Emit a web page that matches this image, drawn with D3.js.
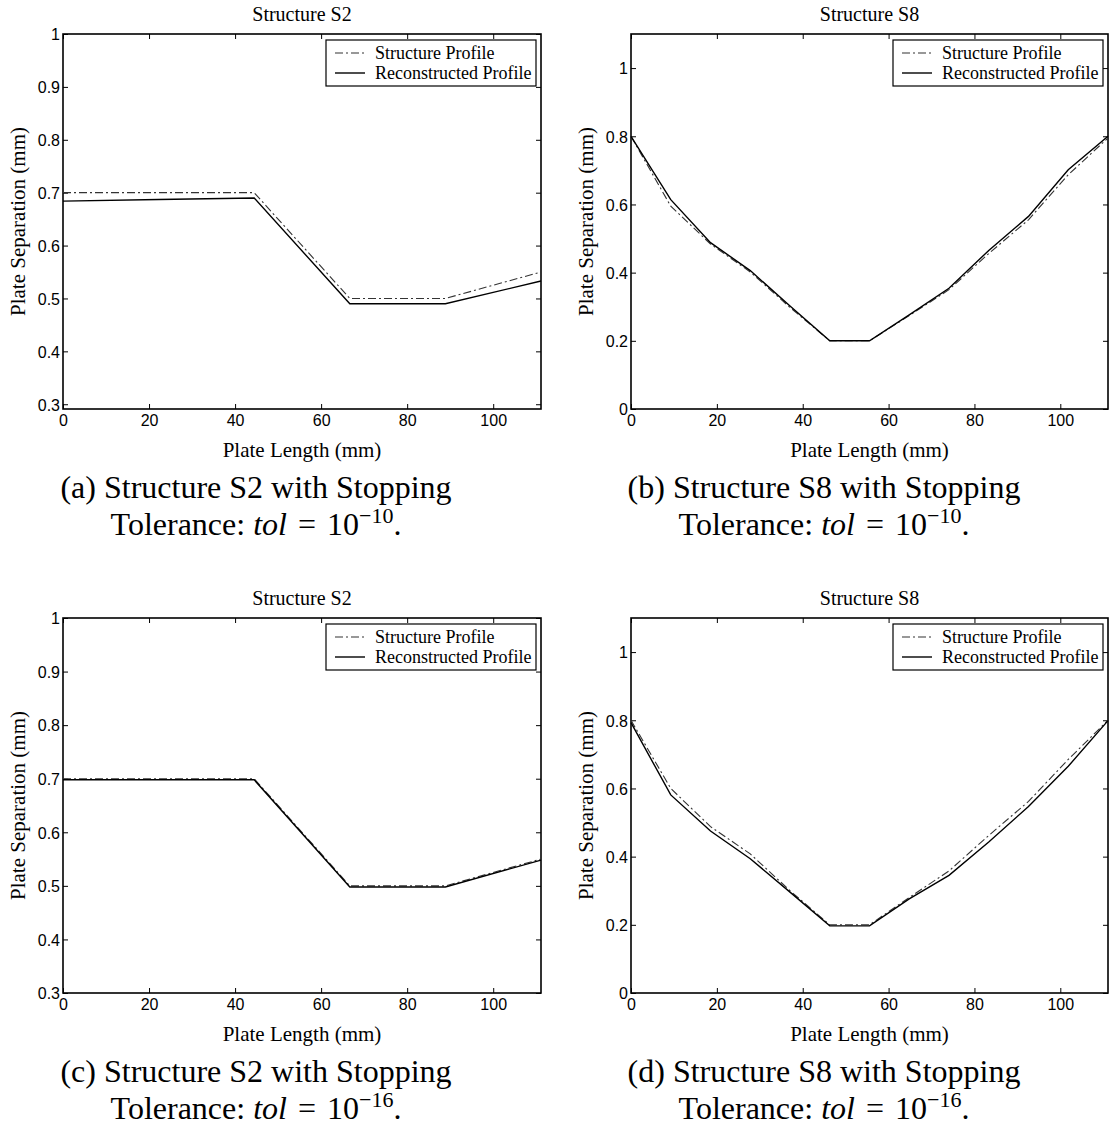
<!DOCTYPE html>
<meta charset="utf-8">
<title>Structure S2 / S8 reconstructed profiles</title>
<style>
    body {
        margin: 0;
        background: #fff;
    }
    svg text.tick-label {
        font-family: "Liberation Sans", Arial, sans-serif;
    }
</style>

<body>
    <script src="https://d3js.org/d3.v7.min.js"></script>
    <script>/* JavaScript */

        /* Plate length grid points (mm) */
        var xS2 = [0, 22.22, 44.44, 66.67, 88.89, 111.11];
        var xS8 = [0, 9.26, 18.52, 27.78, 37.04, 46.30, 55.56, 64.81, 74.07, 83.33, 92.59, 101.85, 111.11];

        /* Plate separation (mm) */
        var s2Structure = [0.700, 0.700, 0.700, 0.500, 0.500, 0.550];
        var s2ReconA = [0.684, 0.687, 0.690, 0.490, 0.490, 0.533];
        var s2ReconC = [0.698, 0.698, 0.698, 0.498, 0.498, 0.548];

        var s8StructureB = [0.800, 0.595, 0.484, 0.402, 0.298, 0.200, 0.200, 0.274, 0.350, 0.456, 0.555, 0.687, 0.795];
        var s8ReconB = [0.800, 0.614, 0.488, 0.406, 0.302, 0.200, 0.200, 0.276, 0.354, 0.465, 0.565, 0.702, 0.800];
        var s8StructureD = [0.800, 0.600, 0.488, 0.408, 0.300, 0.200, 0.200, 0.280, 0.358, 0.462, 0.562, 0.685, 0.800];
        var s8ReconD = [0.793, 0.581, 0.475, 0.394, 0.296, 0.197, 0.197, 0.276, 0.345, 0.443, 0.547, 0.665, 0.799];

        /* Tick labels */
        var xTicks = [0, 20, 40, 60, 80, 100];
        var yTicksS2 = [0.3, 0.4, 0.5, 0.6, 0.7, 0.8, 0.9, 1];
        var yTicksS8 = [0, 0.2, 0.4, 0.6, 0.8, 1];

        var legendLabels = ["Structure Profile", "Reconstructed Profile"];

        var panels = [
            { title: "Structure S2", x: xS2, structure: s2Structure, recon: s2ReconA, yDomain: [0.291, 1], yTicks: yTicksS2, tag: "(a)", name: "S2", exp: "\u221210" },
            { title: "Structure S8", x: xS8, structure: s8StructureB, recon: s8ReconB, yDomain: [0, 1.1], yTicks: yTicksS8, tag: "(b)", name: "S8", exp: "\u221210" },
            { title: "Structure S2", x: xS2, structure: s2Structure, recon: s2ReconC, yDomain: [0.3, 1], yTicks: yTicksS2, tag: "(c)", name: "S2", exp: "\u221216" },
            { title: "Structure S8", x: xS8, structure: s8StructureD, recon: s8ReconD, yDomain: [0, 1.1], yTicks: yTicksS8, tag: "(d)", name: "S8", exp: "\u221216" }
        ];

        /* Layout constants */
        var width = 1110,
            height = 1127;
        var boxes = [
            { x0: 63, x1: 541, y0: 34, y1: 409 },
            { x0: 631, x1: 1108, y0: 34, y1: 409 },
            { x0: 63, x1: 541, y0: 618, y1: 993 },
            { x0: 631, x1: 1108, y0: 618, y1: 993 }
        ];
        var serif = '"Liberation Serif", "Times New Roman", serif';

        var svg = d3.select("body").append("svg")
            .attr("width", width)
            .attr("height", height);

        panels.forEach(function (p, i) {
            drawPanel(p, boxes[i]);
        });

        function drawPanel(p, b) {
            var g = svg.append("g");

            var x = d3.scaleLinear()
                .domain([0, 111.11])
                .range([b.x0, b.x1]);
            var y = d3.scaleLinear()
                .domain(p.yDomain)
                .range([b.y1, b.y0]);

            // axes with inward ticks on every side
            var bottom = g.append("g")
                .attr("transform", "translate(0," + b.y1 + ")")
                .call(d3.axisBottom(x).tickValues(xTicks).tickSizeInner(-5).tickSizeOuter(0).tickPadding(5));
            var left = g.append("g")
                .attr("transform", "translate(" + b.x0 + ",0)")
                .call(d3.axisLeft(y).tickValues(p.yTicks).tickSizeInner(-5).tickSizeOuter(0).tickPadding(3)
                    .tickFormat(function (d) { return d3.format("")(+d.toFixed(1)); }));
            g.append("g")
                .attr("transform", "translate(0," + b.y0 + ")")
                .call(d3.axisTop(x).tickValues(xTicks).tickSizeInner(-5).tickSizeOuter(0).tickFormat(""));
            g.append("g")
                .attr("transform", "translate(" + b.x1 + ",0)")
                .call(d3.axisRight(y).tickValues(p.yTicks).tickSizeInner(-5).tickSizeOuter(0).tickFormat(""));

            g.selectAll(".domain").remove();
            g.selectAll(".tick line").attr("stroke", "#000").attr("stroke-width", 1);
            g.selectAll(".tick text")
                .attr("class", "tick-label")
                .attr("fill", "#000")
                .style("font-size", "16px");
            bottom.selectAll(".tick text").attr("dy", "0.78em");
            left.selectAll(".tick text").attr("dy", "0.36em");

            g.append("rect")
                .attr("x", b.x0)
                .attr("y", b.y0)
                .attr("width", b.x1 - b.x0)
                .attr("height", b.y1 - b.y0)
                .attr("fill", "none")
                .attr("stroke", "#000")
                .attr("stroke-width", 1.6);

            // profiles
            var line = d3.line()
                .x(function (d) { return x(d[0]); })
                .y(function (d) { return y(d[1]); });

            g.append("path")
                .datum(d3.zip(p.x, p.structure))
                .attr("d", line)
                .attr("fill", "none")
                .attr("stroke", "#333")
                .attr("stroke-width", 1.1)
                .attr("stroke-dasharray", "8,3,2,3");

            g.append("path")
                .datum(d3.zip(p.x, p.recon))
                .attr("d", line)
                .attr("fill", "none")
                .attr("stroke", "#000")
                .attr("stroke-width", 1.4);

            // title and axis labels
            g.append("text")
                .text(p.title)
                .attr("x", (b.x0 + b.x1) / 2)
                .attr("y", b.y0 - 13)
                .attr("text-anchor", "middle")
                .style("font-family", serif)
                .style("font-size", "20px");

            g.append("text")
                .text("Plate Length (mm)")
                .attr("x", (b.x0 + b.x1) / 2)
                .attr("y", b.y1 + 48)
                .attr("text-anchor", "middle")
                .style("font-family", serif)
                .style("font-size", "21px");

            g.append("text")
                .text("Plate Separation (mm)")
                .attr("transform", "translate(" + (b.x0 - 38) + "," + ((b.y0 + b.y1) / 2) + ") rotate(-90)")
                .attr("text-anchor", "middle")
                .style("font-family", serif)
                .style("font-size", "21px");

            // legend
            var lx = b.x1 - 215, ly = b.y0 + 6;
            var lg = g.append("g");
            lg.append("rect")
                .attr("x", lx)
                .attr("y", ly)
                .attr("width", 210)
                .attr("height", 46)
                .attr("fill", "#fff")
                .attr("stroke", "#000")
                .attr("stroke-width", 1.2);
            legendLabels.forEach(function (lab, k) {
                var cy = ly + 13 + k * 20;
                lg.append("line")
                    .attr("x1", lx + 9).attr("x2", lx + 39)
                    .attr("y1", cy).attr("y2", cy)
                    .attr("stroke", k === 0 ? "#333" : "#000")
                    .attr("stroke-width", k === 0 ? 1.1 : 1.4)
                    .attr("stroke-dasharray", k === 0 ? "8,3,2,3" : null);
                lg.append("text")
                    .text(lab)
                    .attr("x", lx + 49)
                    .attr("y", cy + 6)
                    .style("font-family", serif)
                    .style("font-size", "18px");
            });

            // caption
            var cx = b.x0 + 193;
            g.append("text")
                .attr("x", cx)
                .attr("y", b.y1 + 89)
                .attr("text-anchor", "middle")
                .style("font-family", serif)
                .style("font-size", "32px")
                .text(p.tag + " Structure " + p.name + " with Stopping");
            var c2 = g.append("text")
                .attr("x", cx)
                .attr("y", b.y1 + 126)
                .attr("text-anchor", "middle")
                .style("font-family", serif)
                .style("font-size", "32px");
            c2.append("tspan").text("Tolerance: ");
            c2.append("tspan").style("font-style", "italic").text("tol");
            c2.append("tspan").attr("dx", 3).text(" = ");
            c2.append("tspan").attr("dx", 3).text("10");
            c2.append("tspan").attr("dy", -12).style("font-size", "22px").text(p.exp);
            c2.append("tspan").attr("dy", 12).text(".");
        }

    </script>
</body>
